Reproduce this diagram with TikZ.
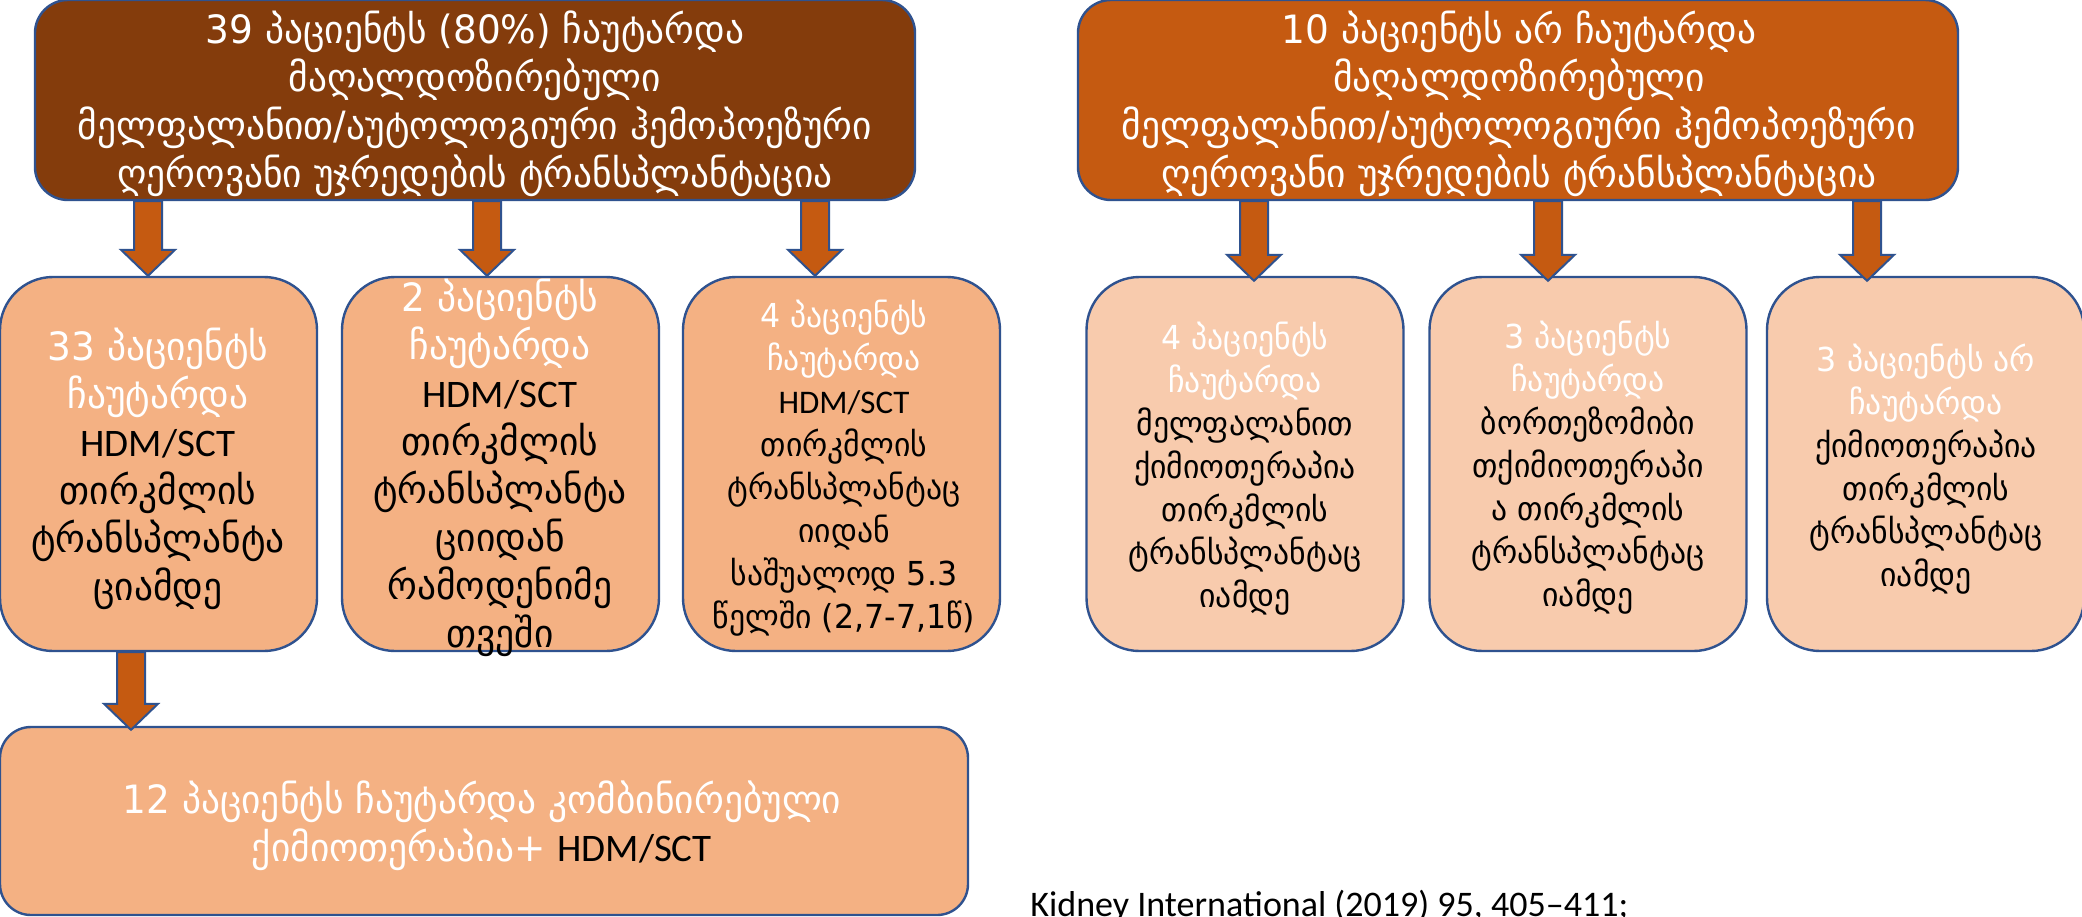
\documentclass[tikz,border=0pt]{standalone}
\usepackage{fontspec}
\setmainfont{Carlito}
\newfontfamily\geo[FakeStretch=0.96]{DejaVu Sans}
\usetikzlibrary{calc}

\definecolor{darkbrown}{HTML}{843C0C}
\definecolor{rust}{HTML}{C55A11}
\definecolor{peach}{HTML}{F4B183}
\definecolor{lightpeach}{HTML}{F8CBAD}
\definecolor{edgeblue}{HTML}{2F528F}

% block arrow from the bottom of #1 to the top of #2 at horizontal position #3 (px), tip pushed #4 (pt) into #2
\newcommand\blockarrow[4]{%
  \filldraw[barrow] let \p1=(#1.south), \p2=(#2.north) in
    ({#3*0.5pt-7pt},\y1) -- ({#3*0.5pt+7pt},\y1) -- ({#3*0.5pt+7pt},\y2+13pt-#4)
    -- ({#3*0.5pt+13.5pt},\y2+13pt-#4) -- ({#3*0.5pt},\y2-#4)
    -- ({#3*0.5pt-13.5pt},\y2+13pt-#4) -- ({#3*0.5pt-7pt},\y2+13pt-#4) -- cycle;}

\newcommand\wl[1]{\textcolor{white}{#1}}

\begin{document}
\begin{tikzpicture}[x=0.5pt,y=-0.5pt,
  box/.style={draw=edgeblue, line width=1.2pt, inner sep=0pt},
  topbox/.style={box, minimum width=440pt, minimum height=100pt, rounded corners=16.5pt},
  midbox/.style={box, minimum width=158.5pt, minimum height=187pt, rounded corners=26.5pt},
  barrow/.style={fill=rust, draw=edgeblue, line width=1pt, line join=miter},
  bigtext/.style={align=center, inner sep=0pt, font=\geo\fontsize{19.5}{24}\selectfont},
  smalltext/.style={align=center, inner sep=0pt, font=\geo\fontsize{16.5}{21.5}\selectfont}]
\useasboundingbox (0,0) rectangle (2082,916);
\fill[white] (0,0) rectangle (2082,916);

% upper row
\node[topbox, fill=darkbrown] (top1) at (475,100) {};
\node[topbox, fill=rust] (top2) at (1518,100) {};

% middle row
\node[midbox, fill=peach] (boxA) at (158.5,464) {};
\node[midbox, fill=peach] (boxB) at (500.5,464) {};
\node[midbox, fill=peach] (boxC) at (841.5,464) {};
\node[midbox, fill=lightpeach] (boxD) at (1245,464) {};
\node[midbox, fill=lightpeach] (boxE) at (1588,464) {};
\node[midbox, fill=lightpeach] (boxF) at (1925.5,464) {};

% lower row
\node[box, fill=peach, minimum width=484pt, minimum height=94pt, rounded corners=15.5pt] (bottom) at (484,821) {};

% arrows
\blockarrow{top1}{boxA}{148}{0pt}
\blockarrow{top1}{boxB}{487}{0pt}
\blockarrow{top1}{boxC}{815}{0pt}
\blockarrow{top2}{boxD}{1254}{2.5pt}
\blockarrow{top2}{boxE}{1548}{2.5pt}
\blockarrow{top2}{boxF}{1867}{2.5pt}
\blockarrow{boxA}{bottom}{131}{2pt}

% texts
\node[bigtext, text=white] (t1) at (475,104) {39 პაციენტს (80\%) ჩაუტარდა\\მაღალდოზირებული\\მელფალანით/აუტოლოგიური ჰემოპოეზური\\ღეროვანი უჯრედების ტრანსპლანტაცია};
\node[bigtext, text=white] (t2) at (1519,104) {10 პაციენტს არ ჩაუტარდა\\მაღალდოზირებული\\მელფალანით/აუტოლოგიური ჰემოპოეზური\\ღეროვანი უჯრედების ტრანსპლანტაცია};

\node[bigtext] (tA) at (158,469) {\wl{33 პაციენტს}\\\wl{ჩაუტარდა}\\{\rmfamily HDM/SCT}\\თირკმლის\\ტრანსპლანტა\\ციამდე};
\node[bigtext] (tB) at (500,468) {\wl{2 პაციენტს}\\\wl{ჩაუტარდა}\\{\rmfamily HDM/SCT}\\თირკმლის\\ტრანსპლანტა\\ციიდან\\რამოდენიმე\\თვეში};
\node[smalltext] (tC) at (844,468) {\wl{4 პაციენტს}\\\wl{ჩაუტარდა}\\{\rmfamily HDM/SCT}\\თირკმლის\\ტრანსპლანტაც\\იიდან\\საშუალოდ 5.3\\წელში (2,7-7,1წ)};
\node[smalltext] (tD) at (1245,469) {\wl{4 პაციენტს}\\\wl{ჩაუტარდა}\\მელფალანით\\ქიმიოთერაპია\\თირკმლის\\ტრანსპლანტაც\\იამდე};
\node[smalltext] (tE) at (1588,467.5) {\wl{3 პაციენტს}\\\wl{ჩაუტარდა}\\ბორთეზომიბი\\თქიმიოთერაპი\\ა თირკმლის\\ტრანსპლანტაც\\იამდე};
\node[smalltext] (tF) at (1926,469.5) {\wl{3 პაციენტს არ}\\\wl{ჩაუტარდა}\\ქიმიოთერაპია\\თირკმლის\\ტრანსპლანტაც\\იამდე};

\node[bigtext] (tBottom) at (482,826) {\wl{12 პაციენტს ჩაუტარდა კომბინირებული}\\\wl{ქიმიოთერაპია+} {\rmfamily HDM/SCT}};

\node[anchor=base west, inner sep=0pt, font=\rmfamily\fontsize{18}{22}\selectfont] (cite) at (1030,916) {Kidney International (2019) 95, 405–411;};
\end{tikzpicture}
\end{document}
